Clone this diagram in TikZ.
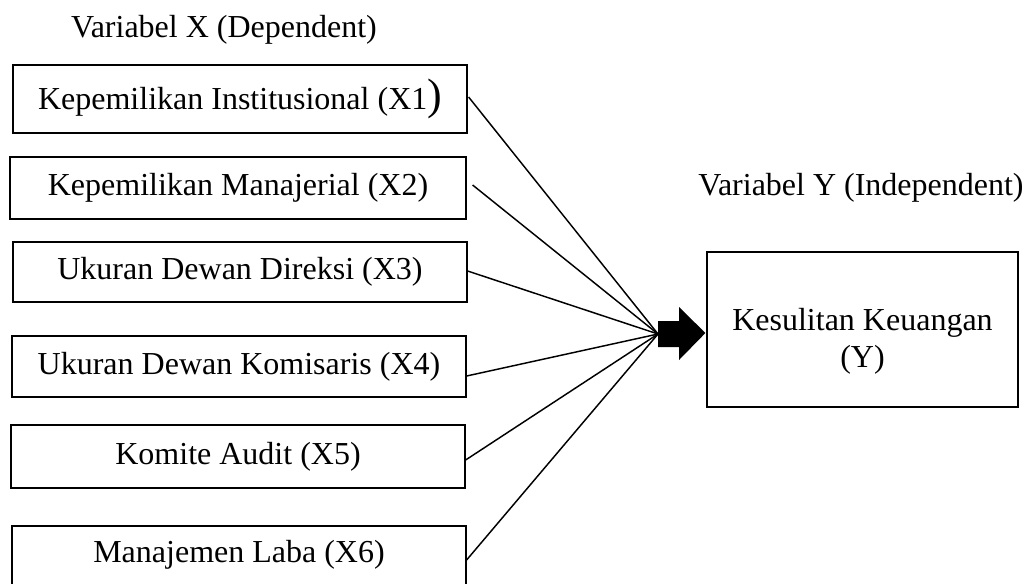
\documentclass[tikz,border=0pt]{standalone}
\usepackage{fontspec}
\setmainfont{Liberation Serif}
\usetikzlibrary{calc}
\begin{document}
\begin{tikzpicture}[x=0.75pt,y=-0.75pt,
  vbox/.style={draw, line width=0.9pt, inner sep=0pt, align=center,
    font=\fontsize{24}{28}\selectfont},
  lbl/.style={inner sep=0pt, align=center, font=\fontsize{24}{28}\selectfont},
  conn/.style={line width=1.1pt}]
\useasboundingbox (0,0) rectangle (1030,583);
\clip (0,0) rectangle (1030,583);
\node[lbl] (vx) at (224,30) {Variabel X (Dependent)};
\node[lbl] (vy) at (861,188) {Variabel Y (Independent)};
\node[vbox, minimum width=454*0.75pt, minimum height=68*0.75pt] (x1) at (240,99)
  {Kepemilikan Institusional (X1{\fontsize{33}{36}\selectfont)}};
\node[vbox, minimum width=456*0.75pt, minimum height=62*0.75pt] (x2) at (238,188) {Kepemilikan Manajerial (X2)};
\node[vbox, minimum width=454*0.75pt, minimum height=60*0.75pt] (x3) at (240,272) {Ukuran Dewan Direksi (X3)};
\node[vbox, minimum width=454*0.75pt, minimum height=61*0.75pt] (x4) at (239,366.5) {Ukuran Dewan Komisaris (X4)};
\node[vbox, minimum width=454*0.75pt, minimum height=63*0.75pt] (x5) at (238,456.5) {Komite Audit (X5)};
\node[vbox, minimum width=454*0.75pt, minimum height=64*0.75pt, text depth=0pt] (x6) at (239,558) {};
\node[lbl] (x6t) at (239,555) {Manajemen Laba (X6)};
\node[vbox, minimum width=311*0.75pt, minimum height=155*0.75pt] (y) at (862.5,329.5) {};
\node[lbl] (yt) at (862.5,341) {Kesulitan Keuangan\\(Y)};
\coordinate (conv) at (658,334);
\fill (conv) ++(0,-13) -- ++(21,0) -- ++(0,-14) -- ($(y.west)+(-1,3.5)$) -- (679,360) -- (679,347) -- (658,347) -- cycle;
\draw[conn] ($(x1.east)+(1,-2)$) -- (conv);
\draw[conn] ($(x2.east)+(6,-3)$) -- (conv);
\draw[conn] ($(x3.east)+(0,-1)$) -- (conv);
\draw[conn] ($(x4.east)+(0,9.5)$) -- (conv);
\draw[conn] ($(x5.east)+(0,3.5)$) -- (conv);
\draw[conn] ($(x6.east)+(0,2)$) -- (conv);
\end{tikzpicture}
\end{document}
